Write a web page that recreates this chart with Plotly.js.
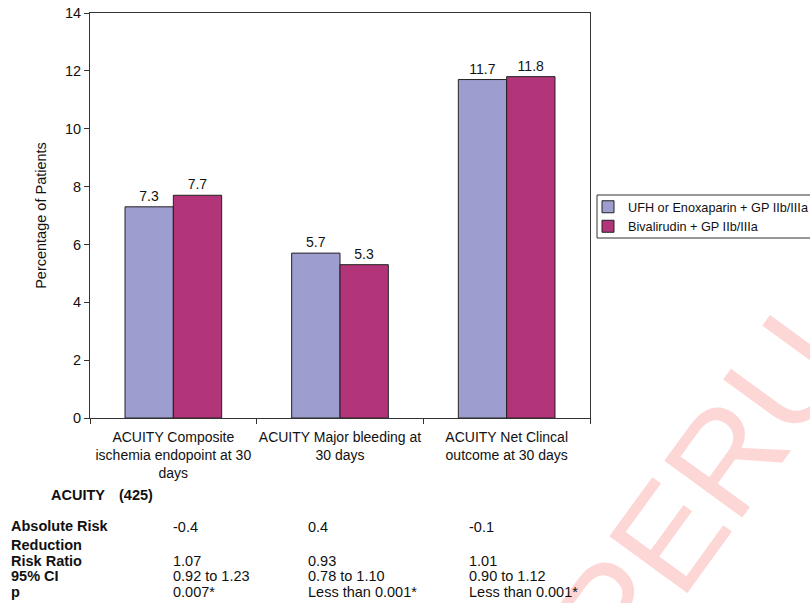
<!DOCTYPE html>
<html>
<head>
<meta charset="utf-8">
<script src="https://cdn.plot.ly/plotly-3.0.1.min.js"></script>
<style>html,body{margin:0;padding:0;background:#fff;}#chart{width:810px;height:603px;}</style>
</head>
<body>
<div id="chart"></div>
<script>
const categories = [
  "ACUITY Composite<br>ischemia endopoint at 30<br>days",
  "ACUITY Major bleeding at<br>30 days",
  "ACUITY Net Clincal<br>outcome at 30 days"
];
const seriesNames = ["UFH or Enoxaparin + GP IIb/IIIa", "Bivalirudin + GP IIb/IIIa"];
const ufhValues = [7.3, 5.7, 11.7];
const bivValues = [7.7, 5.3, 11.8];
const yTicks = [0, 2, 4, 6, 8, 10, 12, 14];

const tableTitle = "ACUITY";
const tableN = "(425)";
const rowLabels = ["Absolute Risk<br>Reduction", "Risk Ratio", "95% CI", "p"];
const absRiskReduction = ["-0.4", "0.4", "-0.1"];
const riskRatio = ["1.07", "0.93", "1.01"];
const ci95 = ["0.92 to 1.23", "0.78 to 1.10", "0.90 to 1.12"];
const pValues = ["0.007*", "Less than 0.001*", "Less than 0.001*"];
const watermark = "PERU";

const FONT = "Liberation Sans, Arial, sans-serif";
const W = 810, H = 603;
const L = 90, R = 590, T = 13, B = 418;
const px = x => (x - L) / (R - L);
const py = y => (B - y) / (B - T);

const traces = [
  {type: "bar", name: seriesNames[0], x: categories, y: ufhValues,
   text: ufhValues.map(v => v.toFixed(1)), textposition: "outside",
   textfont: {family: FONT, size: 14, color: "#111"}, cliponaxis: false,
   marker: {color: "#9d9dcf", line: {color: "#222", width: 1}}},
  {type: "bar", name: seriesNames[1], x: categories, y: bivValues,
   text: bivValues.map(v => v.toFixed(1)), textposition: "outside",
   textfont: {family: FONT, size: 14, color: "#111"}, cliponaxis: false,
   marker: {color: "#b2357a", line: {color: "#222", width: 1}}}
];

const TS = 14.5;
const annotations = [];
annotations.push({xref: "paper", yref: "paper", x: px(700), y: py(492), showarrow: false,
  text: watermark, textangle: -54, font: {family: FONT, size: 140, color: "#fdd6d6"},
  xanchor: "center", yanchor: "middle"});
const ann = [];
const colX = [172, 307, 468];
ann.push({text: "<b>" + tableTitle + "</b>", x: px(50), y: py(495), xanchor: "left"});
ann.push({text: "<b>" + tableN + "</b>", x: px(118), y: py(495), xanchor: "left"});
ann.push({text: "<b>" + rowLabels[0] + "</b>", x: px(10), y: py(517), xanchor: "left", yanchor: "top", align: "left"});
ann.push({text: "<b>" + rowLabels[1] + "</b>", x: px(10), y: py(561), xanchor: "left"});
ann.push({text: "<b>" + rowLabels[2] + "</b>", x: px(10), y: py(576), xanchor: "left"});
ann.push({text: "<b>" + rowLabels[3] + "</b>", x: px(10), y: py(592), xanchor: "left"});
const rows = [[absRiskReduction, 527], [riskRatio, 561], [ci95, 576], [pValues, 592]];
rows.forEach(([vals, yy]) => {
  vals.forEach((v, i) => ann.push({text: v, x: px(colX[i]), y: py(yy), xanchor: "left"}));
});
ann.forEach(a => annotations.push(Object.assign({xref: "paper", yref: "paper", showarrow: false,
  yanchor: "middle", borderpad: 0, font: {family: FONT, size: TS, color: "#111"}}, a)));

const layout = {
  width: W, height: H,
  margin: {l: L, r: W - R, t: T, b: H - B, autoexpand: false},
  paper_bgcolor: "#ffffff", plot_bgcolor: "#ffffff",
  font: {family: FONT, size: 14, color: "#111"},
  barmode: "group", bargap: 0.42, bargroupgap: 0,
  showlegend: true,
  legend: {x: px(588), y: py(192), xanchor: "left", yanchor: "top",
    borderwidth: 0, bgcolor: "rgba(0,0,0,0)",
    font: {family: FONT, size: 12.7, color: "#111"}, tracegroupgap: 0,
    itemwidth: 30},
  shapes: [{type: "rect", xref: "paper", yref: "paper", x0: px(597), x1: px(815), y0: py(195), y1: py(238),
    line: {color: "#333", width: 1}, fillcolor: "rgba(0,0,0,0)", layer: "below"}],
  xaxis: {showline: true, linecolor: "#333", linewidth: 1, mirror: true,
    ticks: "outside", tickson: "boundaries", ticklen: 5, tickcolor: "#333",
    ticklabelstandoff: 6, tickangle: 0,
    tickfont: {family: FONT, size: 14, color: "#111"}, showgrid: false, zeroline: false},
  yaxis: {range: [0, 14], tickvals: yTicks, showline: true, linecolor: "#333", linewidth: 1, mirror: true,
    ticks: "outside", ticklen: 5, tickcolor: "#333", showgrid: false, zeroline: false,
    tickfont: {family: FONT, size: 14.5, color: "#111"},
    title: {text: "Percentage of Patients", font: {family: FONT, size: 14.5, color: "#111"}, standoff: 14}},
  annotations: annotations
};

Plotly.newPlot("chart", traces, layout, {displayModeBar: false, staticPlot: true});
</script>
</body>
</html>
